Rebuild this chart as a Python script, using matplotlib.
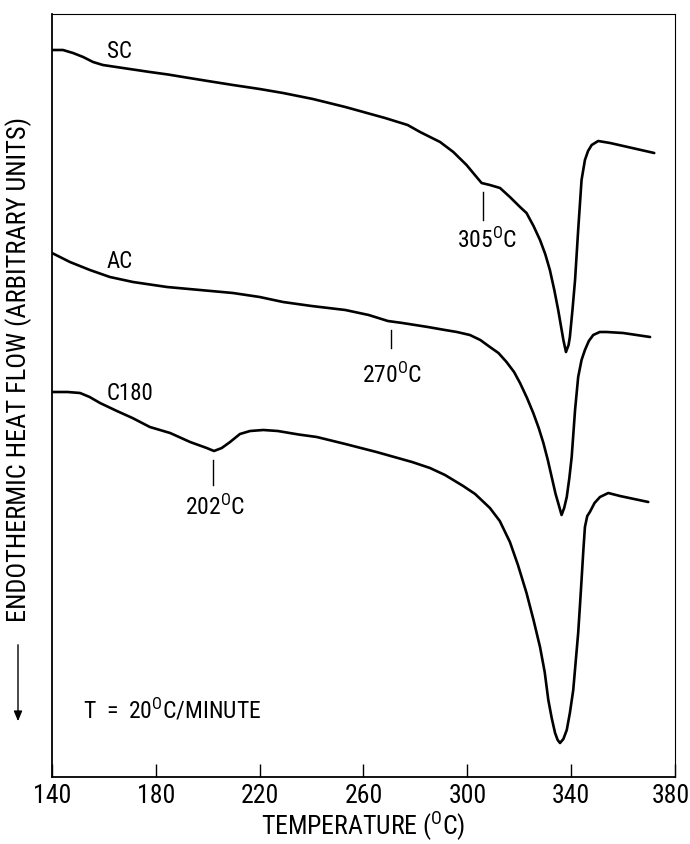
import matplotlib
matplotlib.use("Agg")
import matplotlib.pyplot as plt
from matplotlib import font_manager
from matplotlib.patches import FancyArrowPatch
from matplotlib.transforms import ScaledTranslation

# DSC traces, temperature in deg C vs endothermic heat flow (arbitrary units)
sc_temp = [140, 144.2, 148.1, 152, 155.8, 159.6, 167.3, 177.7, 184.7, 190.5, 200, 209.7, 220,
           229, 240.5, 253, 268.3, 277, 281.8, 289.5, 294.6, 299.7, 302.9, 305.5, 308.7,
           312.6, 316.4, 320.3, 322.8, 325.5, 328, 330, 331.8, 333.5, 335, 336.2, 337, 338,
           339, 339.5, 340.5, 341.5, 342.7, 344, 345.3, 346.5, 347.9, 350.4, 355, 372]
sc_flow = [72.7, 72.7, 72.4, 72.0, 71.5, 71.2, 70.9, 70.5, 70.25, 70.0, 69.6, 69.2, 68.8,
           68.4, 67.8, 67.0, 65.9, 65.2, 64.5, 63.5, 62.5, 61.2, 60.2, 59.4, 59.2,
           58.9, 58.0, 57.0, 56.4, 55.1, 53.7, 52.3, 50.7, 48.7, 46.7, 44.9, 43.7, 42.5,
           43.2, 44.0, 46.7, 49.7, 54.7, 59.7, 61.7, 62.6, 63.2, 63.6, 63.4, 62.4]

ac_temp = [140, 146.9, 154.6, 162.3, 171.2, 184.3, 197, 209.7, 220, 229, 240, 253, 262, 269.4,
           275, 284.8, 291.4, 296, 301, 305, 308.7, 312, 315.1, 318, 320.3, 323, 325.4,
           327.5, 329.3, 331, 332.5, 334, 335, 336.3, 337.3, 338.3, 339.3, 340.2, 341.5,
           342.7, 344, 345.3, 346.8, 348.5, 351, 353.7, 360, 370.4]
ac_flow = [52.4, 51.5, 50.7, 50.0, 49.5, 49.0, 48.7, 48.4, 48.0, 47.5, 47.1, 46.7, 46.2,
           45.6, 45.4, 45.0, 44.7, 44.5, 44.2, 43.7, 43.0, 42.4, 41.5, 40.5, 39.4, 37.9,
           36.4, 34.9, 33.4, 31.7, 30.0, 28.3, 27.4, 26.2, 26.9, 28.0, 29.9, 32.0, 36.7,
           40.0, 41.7, 42.7, 43.6, 44.2, 44.5, 44.5, 44.4, 44.0]

c180_temp = [140, 146, 150.8, 154.5, 158.5, 165, 171, 177.7, 185.5, 193.2, 199.6, 202.4,
             205.4, 208.6, 212.4, 216.3, 221.4, 227, 235, 242, 253, 265, 278.7, 285.6, 291.4,
             298.4, 303, 308.7, 312.5, 316.4, 319.5, 322.8, 325.5, 328, 329.8, 331.2, 332.5,
             333.8, 334.8, 335.7, 337, 338.3, 339.5, 340.8, 341.8, 342.7, 343.4, 344, 344.7,
             345.3, 346.2, 347.2, 349, 351.1, 354.3, 358.8, 369.7]
c180_flow = [38.5, 38.5, 38.4, 38.0, 37.4, 36.6, 35.9, 35.0, 34.4, 33.5, 32.9, 32.6,
             32.9, 33.5, 34.3, 34.6, 34.7, 34.6, 34.25, 34.0, 33.3, 32.5, 31.5, 30.9, 30.2,
             29.1, 28.3, 26.9, 25.6, 23.5, 21.2, 18.4, 15.7, 13.0, 10.5, 7.7, 5.9,
             4.4, 3.7, 3.4, 3.8, 4.7, 6.4, 8.7, 11.7, 14.4, 17.2, 19.7, 22.7,
             25.0, 26.1, 26.5, 27.4, 28.0, 28.4, 28.1, 27.5]

# sample labels: (text, temperature, flow)
curve_labels = [("SC", 161.2, 72.5), ("AC", 161.2, 51.5), ("C180", 161.2, 38.4)]
# transition marks: (label, temperature, tick top, tick bottom, text left, text y)
transitions = [("305", 306.0, 58.5, 55.7, 296.0, 53.7),
               ("270", 270.6, 44.7, 42.9, 259.4, 40.2),
               ("202", 202.0, 31.7, 29.2, 191.2, 27.0)]
xticks = [140, 180, 220, 260, 300, 340, 380]

names = {f.name for f in font_manager.fontManager.ttflist}
family = next((n for n in ["Roboto Condensed", "PT Sans Narrow", "Liberation Sans Narrow",
                           "Liberation Sans"] if n in names), "DejaVu Sans")
plt.rcParams["font.family"] = [family, "DejaVu Sans"]
plt.rcParams["mathtext.fontset"] = "custom"
plt.rcParams["mathtext.rm"] = family
plt.rcParams["mathtext.it"] = family
plt.rcParams["mathtext.bf"] = family

fig = plt.figure(figsize=(6.9, 8.44), dpi=100)
ax = fig.add_axes([52 / 690, 1 - 777 / 844, 623 / 690, 763 / 844])

for t, f in [(sc_temp, sc_flow), (ac_temp, ac_flow), (c180_temp, c180_flow)]:
    ax.plot(t, f, color="black", lw=1.9, solid_joinstyle="round", solid_capstyle="round")

for name, t, f in curve_labels:
    ax.text(t, f, name, fontsize=16.5, ha="left", va="center")

for lab, t, y0, y1, tx, ty in transitions:
    ax.plot([t, t], [y0, y1], color="black", lw=1.0)
    ax.text(tx, ty, lab + r"$^{\rm O}$C", fontsize=17, ha="left", va="center")

ax.text(151.9, 6.7, r"T  =  20$^{\rm O}$C/MINUTE", fontsize=17, ha="left", va="center")

ax.set_xlim(140, 380)
ax.set_ylim(0, 76.3)
ax.set_xticks(xticks)
ax.set_xticklabels([str(v) for v in xticks], fontsize=18.5)
ax.tick_params(axis="x", direction="in", length=9.5, width=1.0, pad=5)
ax.set_yticks([])
# keep the last tick label inside the figure edge
last = ax.get_xticklabels()[-1]
last.set_transform(last.get_transform() + ScaledTranslation(-3 / 72, 0, fig.dpi_scale_trans))
for side in ["left", "bottom"]:
    ax.spines[side].set_linewidth(1.3)
for side in ["top", "right"]:
    ax.spines[side].set_linewidth(0.8)

ax.set_xlabel(r"TEMPERATURE ($^{\rm O}$C)", fontsize=18.5)
ax.xaxis.set_label_coords(0.5, (777 - 810) / 763)

fig.text(19 / 690, 1 - 369 / 844, "ENDOTHERMIC HEAT FLOW (ARBITRARY UNITS)",
         rotation=90, fontsize=19, ha="center", va="center")
fig.add_artist(FancyArrowPatch(
    (18 / 690, 1 - 642 / 844), (18 / 690, 1 - 724 / 844), transform=fig.transFigure,
    arrowstyle="-|>,head_length=6,head_width=2.5", color="black", lw=1.0))

fig.savefig("out.png", dpi=100)
